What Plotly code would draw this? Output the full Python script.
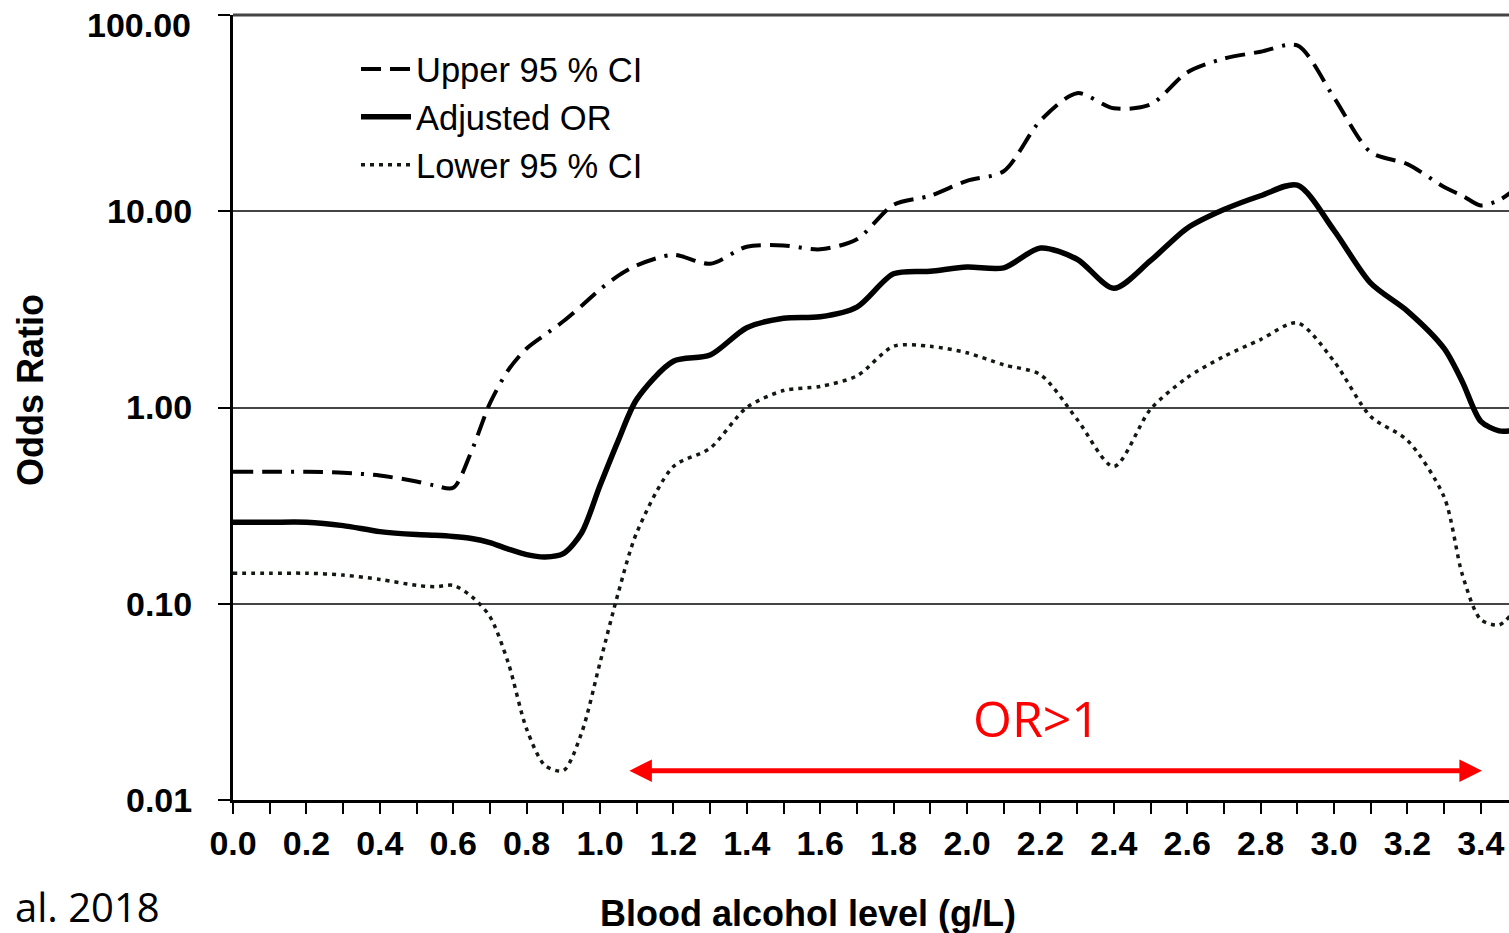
import math
import plotly.graph_objects as go

# ---------------- data ----------------
bac = [0.0, 0.1, 0.2, 0.3, 0.4, 0.5, 0.55, 0.6, 0.65, 0.7, 0.75, 0.8, 0.85, 0.9, 0.95,
       1.0, 1.05, 1.1, 1.2, 1.3, 1.4, 1.5, 1.6, 1.7, 1.8, 1.9, 2.0, 2.1, 2.2, 2.3,
       2.4, 2.5, 2.6, 2.7, 2.8, 2.9, 3.0, 3.1, 3.2, 3.3, 3.35, 3.4, 3.45, 3.48]

upper_ci = [0.47, 0.47, 0.47, 0.465, 0.45, 0.42, 0.40, 0.39, 0.60, 1.05, 1.55, 2.0, 2.35, 2.75, 3.3,
            4.0, 4.7, 5.3, 6.0, 5.4, 6.6, 6.7, 6.4, 7.2, 10.8, 12.0, 14.3, 16.0, 29.0, 40.0,
            33.5, 35.0, 51.0, 60.0, 65.0, 70.0, 38.0, 20.0, 17.4, 13.3, 12.0, 10.7, 11.4, 12.4]

adjusted_or = [0.26, 0.26, 0.26, 0.25, 0.233, 0.225, 0.223, 0.22, 0.215, 0.205, 0.19, 0.178, 0.173, 0.18, 0.23,
               0.40, 0.68, 1.1, 1.72, 1.85, 2.55, 2.85, 2.9, 3.25, 4.8, 4.95, 5.2, 5.15, 6.5, 5.7,
               4.05, 5.6, 8.2, 10.2, 12.0, 13.6, 8.0, 4.3, 3.1, 2.0, 1.35, 0.85, 0.76, 0.76]

lower_ci = [0.143, 0.143, 0.143, 0.14, 0.133, 0.124, 0.122, 0.124, 0.109, 0.086, 0.05, 0.023, 0.015, 0.0141, 0.022,
            0.05, 0.114, 0.23, 0.5, 0.62, 1.0, 1.22, 1.28, 1.45, 2.05, 2.05, 1.9, 1.65, 1.47, 0.87,
            0.5, 0.98, 1.42, 1.82, 2.22, 2.7, 1.72, 0.9, 0.68, 0.35, 0.14, 0.083, 0.078, 0.087]

y_tick_vals = [0.01, 0.1, 1, 10, 100]
y_tick_text = ["0.01", "0.10", "1.00", "10.00", "100.00"]
x_tick_vals = [round(i * 0.2, 1) for i in range(18)]
x_tick_text = [f"{v:.1f}" for v in x_tick_vals]

or_span = [1.076, 3.403]      # extent of the "OR>1" arrow (g/L)
or_arrow_level = 0.0141       # odds-ratio level of the arrow
or_label_pos = (2.19, 0.0262)

# ---------------- layout geometry ----------------
W, H = 1509, 933
L, R, T, B = 233, 0, 15, 133
PW, PH = W - L - R, H - T - B
X_MAX = PW / 367.0  # 367 px per 1.0 g/L


def px2paper_x(px):
    return (px - L) / PW


def px2paper_y(py):
    return (H - B - py) / PH


SANS = "Liberation Sans, Arial, sans-serif"
BOLD = dict(family=SANS, size=34, color="black", weight="bold")

fig = go.Figure()
fig.add_trace(go.Scatter(
    x=bac, y=upper_ci, mode="lines", name="Upper 95 % CI",
    line=dict(color="black", width=4, dash="20px,9px,20px,9px,3px,9px", shape="spline", smoothing=0.8)))
fig.add_trace(go.Scatter(
    x=bac, y=adjusted_or, mode="lines", name="Adjusted OR",
    line=dict(color="black", width=5.5, shape="spline", smoothing=0.8)))
fig.add_trace(go.Scatter(
    x=bac, y=lower_ci, mode="lines", name="Lower 95 % CI",
    line=dict(color="#111811", width=3.5, dash="4px,5px", shape="spline", smoothing=0.8)))

# the top tick label is drawn separately (it sits just below its tick, as in the reference)
y_tick_text_axis = [t if v != 100 else "" for v, t in zip(y_tick_vals, y_tick_text)]

fig.update_layout(
    width=W, height=H,
    margin=dict(l=L, r=R, t=T, b=B, pad=0),
    paper_bgcolor="white", plot_bgcolor="white",
    showlegend=True,
    legend=dict(
        x=px2paper_x(356), y=px2paper_y(40), xanchor="left", yanchor="top",
        bgcolor="rgba(0,0,0,0)", borderwidth=0,
        font=dict(family=SANS, size=34.5, color="black"),
        itemwidth=50, tracegroupgap=0,
    ),
    xaxis=dict(
        range=[0, X_MAX], showgrid=False, zeroline=False,
        showline=True, linecolor="black", linewidth=3,
        tickmode="array", tickvals=x_tick_vals, ticktext=x_tick_text,
        ticks="outside", ticklen=11, tickwidth=2, tickcolor="black",
        minor=dict(dtick=0.1, tick0=0, ticks="outside", ticklen=11, tickwidth=2, tickcolor="black", showgrid=False),
        tickfont=BOLD, ticklabelstandoff=0,
    ),
    yaxis=dict(
        type="log", range=[-2.0004, 2.0004], zeroline=False,
        showline=True, linecolor="black", linewidth=3,
        showgrid=True, gridcolor="#444444", gridwidth=1.5,
        tickmode="array", tickvals=y_tick_vals, ticktext=y_tick_text_axis,
        ticks="outside", ticklen=12, tickwidth=2, tickcolor="black",
        tickfont=BOLD, ticklabelstandoff=19,
    ),
)

fig.add_annotation(text=y_tick_text[-1], xref="paper", yref="paper",
                   x=px2paper_x(193), y=px2paper_y(25), xanchor="right", yanchor="middle",
                   showarrow=False, font=BOLD)

# top frame line
fig.add_shape(type="line", xref="paper", yref="paper", x0=0, x1=1, y0=1, y1=1,
              line=dict(color="#444444", width=3))

# axis titles (as positioned text)
fig.add_annotation(text="Odds Ratio", xref="paper", yref="paper",
                   x=px2paper_x(30), y=px2paper_y(390), xanchor="center", yanchor="middle",
                   textangle=-90, showarrow=False,
                   font=dict(family=SANS, size=36, color="black", weight="bold"))
fig.add_annotation(text="Blood alcohol level (g/L)", xref="paper", yref="paper",
                   x=px2paper_x(808), y=px2paper_y(913), xanchor="center", yanchor="middle",
                   showarrow=False,
                   font=dict(family=SANS, size=36, color="black", weight="bold"))
fig.add_annotation(text="al. 2018", xref="paper", yref="paper",
                   x=px2paper_x(13), y=px2paper_y(906), xanchor="left", yanchor="middle",
                   showarrow=False,
                   font=dict(family="Open Sans, Noto Sans, sans-serif", size=40, color="black"))

# OR>1 label and double arrow
fig.add_annotation(text="OR>1", x=or_label_pos[0], y=math.log10(or_label_pos[1]),
                   xref="x", yref="y", xanchor="center", yanchor="middle", showarrow=False,
                   font=dict(family="Open Sans, Noto Sans, sans-serif", size=50, color="#ff0000"))
fig.add_annotation(text="", x=or_span[1], y=math.log10(or_arrow_level),
                   ax=or_span[0], ay=math.log10(or_arrow_level),
                   xref="x", yref="y", axref="x", ayref="y",
                   showarrow=True, arrowside="end+start", arrowhead=2, arrowsize=0.9,
                   arrowwidth=5, arrowcolor="#ff0000", standoff=0, startstandoff=0)

fig.write_html("out.html", config={"displayModeBar": False},
               post_script="document.body.style.margin='0';document.body.style.overflow='hidden';")
